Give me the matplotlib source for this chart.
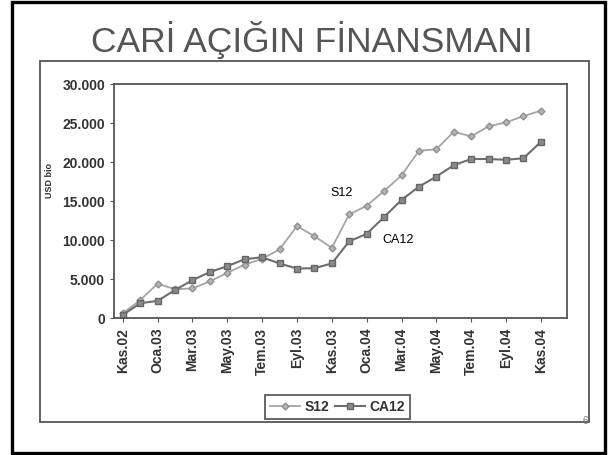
import numpy as np
import matplotlib.pyplot as plt
from matplotlib.patches import Rectangle
from matplotlib.ticker import FuncFormatter

plt.rcParams['font.family'] = ['Liberation Sans', 'DejaVu Sans']

# months Kas.02 .. Kas.04 (monthly), labels every second month
months = ["Kas.02", "Ara.02", "Oca.03", "Şub.03", "Mar.03", "Nis.03", "May.03",
          "Haz.03", "Tem.03", "Ağu.03", "Eyl.03", "Eki.03", "Kas.03", "Ara.03",
          "Oca.04", "Şub.04", "Mar.04", "Nis.04", "May.04", "Haz.04", "Tem.04",
          "Ağu.04", "Eyl.04", "Eki.04", "Kas.04"]
tick_labels = months[::2]

# 12-month cumulative, USD bio
s12 = [600, 2300, 4400, 3700, 3800, 4700, 5800, 6850, 7600, 8800, 11800, 10500,
       9000, 13300, 14400, 16300, 18300, 21450, 21650, 23900, 23300, 24600,
       25100, 25900, 26600]
ca12 = [400, 1900, 2200, 3600, 4850, 5900, 6650, 7550, 7800, 7000, 6350, 6400,
        7000, 9850, 10800, 12950, 15150, 16850, 18150, 19600, 20400, 20400,
        20300, 20500, 22600]

x = np.arange(len(months))

fig = plt.figure(figsize=(6.13, 4.55), dpi=100)

# slide frame and chart frame
fig.patches.append(Rectangle((0.0196, 0.0044), 0.967, 0.9912, transform=fig.transFigure,
                             fill=False, edgecolor='black', linewidth=2.4))
fig.patches.append(Rectangle((0.065, 0.0725), 0.896, 0.7935, transform=fig.transFigure,
                             fill=False, edgecolor='#555555', linewidth=1.3))

fig.text(0.508, 0.886, "CARİ AÇIĞIN FİNANSMANI", ha='center', va='baseline',
         fontsize=25.5, color='#555555')

ax = fig.add_axes([0.186, 0.301, 0.739, 0.514])
ax.plot(x, s12, color='#a5a5a5', marker='D', markersize=3.5, linewidth=1.3,
        markerfacecolor='#b5b5b5', markeredgecolor='#909090', label='S12')
ax.plot(x, ca12, color='#6e6e6e', marker='s', markersize=4, linewidth=1.5,
        markerfacecolor='#8a8a8a', markeredgecolor='#666666', label='CA12')

ax.set_xlim(-0.5, 25.5)
ax.set_ylim(0, 30000)
ax.set_yticks(np.arange(0, 30001, 5000))
ax.yaxis.set_major_formatter(FuncFormatter(lambda v, p: f"{int(v):,}".replace(",", ".")))
ax.set_xticks(x[::2])
ax.set_xticklabels(tick_labels, rotation=90, fontweight='bold', fontsize=10, color='#333333')
ax.tick_params(axis='y', labelsize=10, labelcolor='#333333', length=3, color='#555555')
ax.tick_params(axis='x', length=3, color='#555555', pad=4)
for lbl in ax.get_yticklabels():
    lbl.set_fontweight('bold')
for sp in ax.spines.values():
    sp.set_color('#555555')
    sp.set_linewidth(1.3)

ax.set_ylabel("USD bio", fontsize=6.5, fontweight='bold', color='#333333', labelpad=0)
ax.yaxis.set_label_coords(-0.132, 0.59)

ax.text(11.9, 15600, "S12", fontsize=9, color='black')
ax.text(14.9, 9600, "CA12", fontsize=9, color='black')

leg = fig.legend(loc='center', bbox_to_anchor=(0.55, 0.105), ncol=2, fancybox=False,
                 edgecolor='#333333', handlelength=2.2, columnspacing=0.4,
                 handletextpad=0.3, borderpad=0.35, prop={'weight': 'bold', 'size': 10})
leg.get_frame().set_linewidth(1.3)
for t in leg.get_texts():
    t.set_color('#333333')

fig.text(0.955, 0.075, "6", fontsize=7, color='#777777', ha='center', va='center')

fig.savefig("out.png", dpi=100)
